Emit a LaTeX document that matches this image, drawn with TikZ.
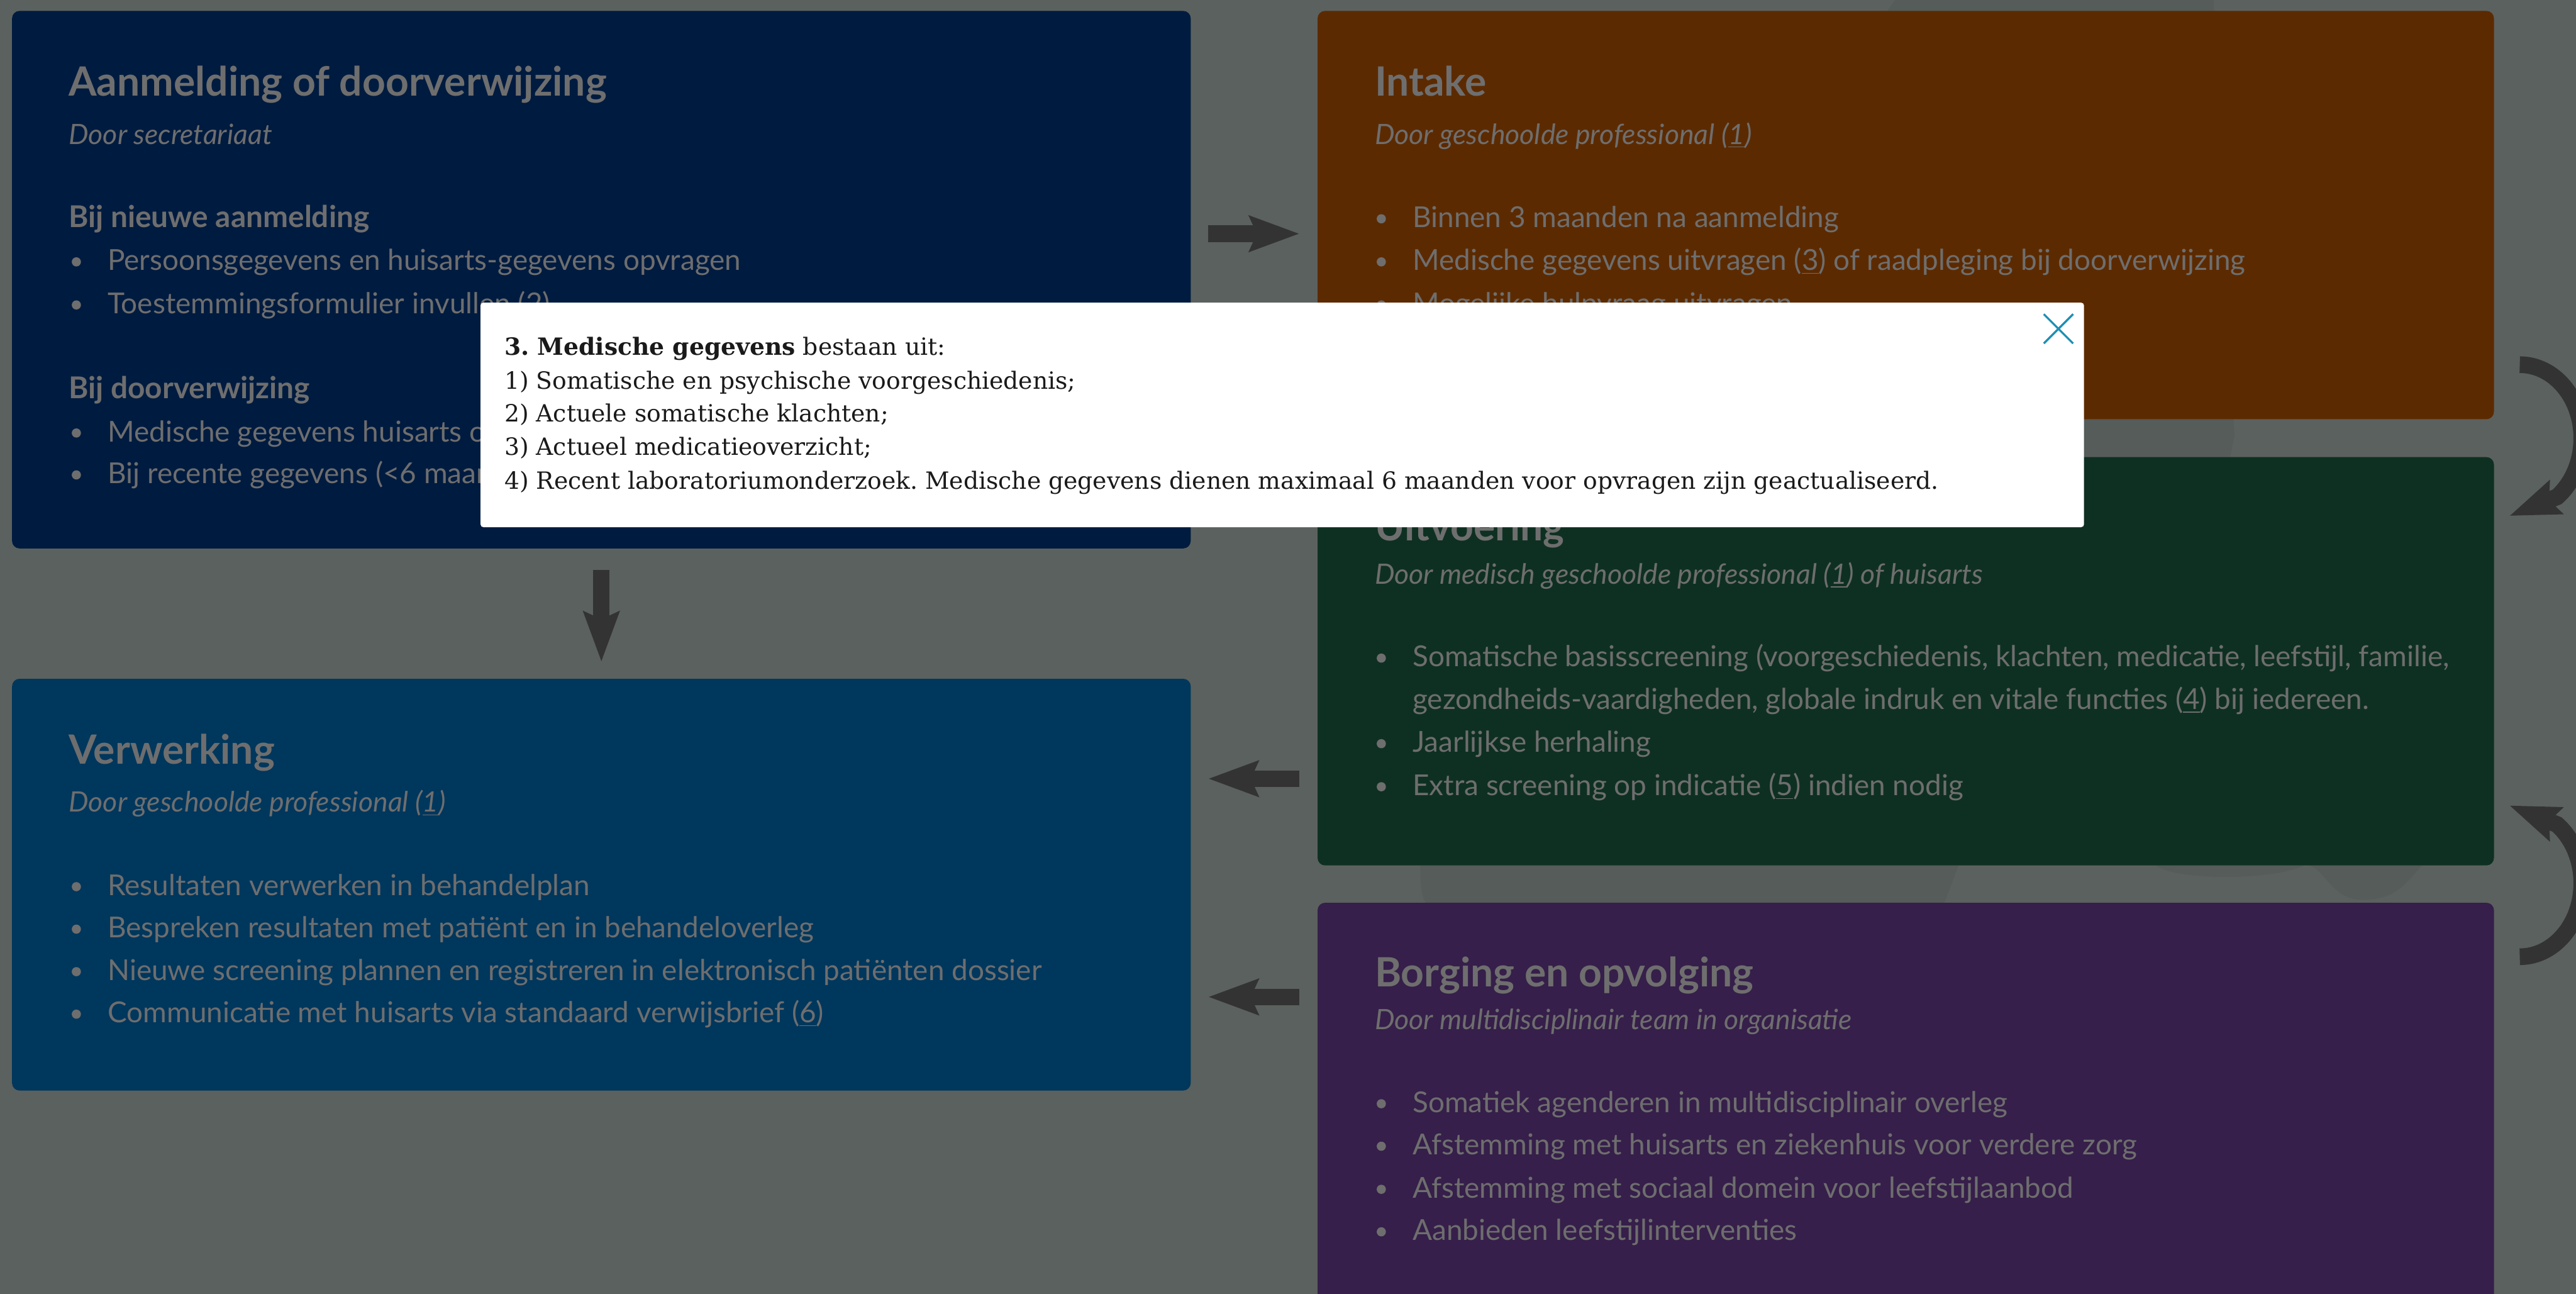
\documentclass[tikz,border=0pt]{standalone}
\usepackage{fontspec}
\setmainfont{Lato}
\newfontfamily\popfont{DejaVu Serif}
\usetikzlibrary{arrows.meta}
\frenchspacing

\definecolor{bggray}{HTML}{5B615E}
\definecolor{figgray}{HTML}{555C59}
\definecolor{navy}{HTML}{001B40}
\definecolor{brown}{HTML}{5C2A00}
\definecolor{darkgreen}{HTML}{0E3022}
\definecolor{purple}{HTML}{361F4A}
\definecolor{steel}{HTML}{00375D}
\definecolor{txtgray}{HTML}{6E6E6E}
\definecolor{arrowgray}{HTML}{333333}
\definecolor{closeblue}{HTML}{1F8FB3}
\definecolor{poptext}{HTML}{1A1A1A}

\begin{document}
\begin{tikzpicture}[
      box/.style={rounded corners=1.3mm, inner sep=0pt, draw=none},
      ttl/.style={anchor=base west, inner sep=0pt, text=txtgray, font=\fontsize{20}{24}\selectfont\bfseries},
      sub/.style={anchor=base west, inner sep=0pt, text=txtgray, font=\fontsize{13.9}{16}\selectfont\itshape},
      hd/.style={anchor=base west, inner sep=0pt, text=txtgray, font=\fontsize{14.9}{17}\selectfont\bfseries},
      itm/.style={anchor=base west, inner sep=0pt, text=txtgray, font=\fontsize{14.3}{17}\selectfont},
      fatarrow/.style={line width=2.9mm, draw=arrowgray, -{Stealth[length=8.8mm, width=6.5mm, inset=1.5mm, line width=0pt]}},
      pop/.style={anchor=base west, inner sep=0pt, text=poptext, font=\popfont\fontsize{11.75}{14}\selectfont\frenchspacing}]
    \useasboundingbox (0,0) rectangle (44.87,-22.53);
    \clip (0,0) rectangle (44.87,-22.53);
    \fill[bggray] (0,0) rectangle (44.87,-22.53);
    % faint figure behind the boxes
    \fill[figgray] (33.08,0.1) -- (38.55,0.1) -- (38.92,-7.6) -- (38.2,-11) -- (34.14,-15.0) -- (33.80,-15.9)
      -- (25.3,-15.9) .. controls (24.74,-15.9) and (24.74,-15.6) .. (24.74,-15.0) -- (26,-10) -- cycle;
    \fill[figgray] (37.51,-15.0) .. controls (37.6,-15.35) and (39.7,-15.35) .. (40.16,-15.05)
      .. controls (40.5,-15.1) and (40.6,-15.67) .. (41.15,-15.67)
      .. controls (41.8,-15.67) and (41.95,-15.3) .. (42.25,-15.0) -- cycle;

    % the five blocks
    \node[box, fill=navy, minimum width=20.53cm, minimum height=9.36cm] (aanm) at (10.475,-4.87) {};
    \node[box, fill=brown, minimum width=20.49cm, minimum height=7.11cm] (intake) at (33.195,-3.745) {};
    \node[box, fill=darkgreen, minimum width=20.49cm, minimum height=7.11cm] (uitv) at (33.195,-11.515) {};
    \node[box, fill=steel, minimum width=20.53cm, minimum height=7.17cm] (verw) at (10.475,-15.405) {};
    \node[box, fill=purple, minimum width=20.49cm, minimum height=7.78cm] (borg) at (33.195,-19.61) {};

    % Aanmelding
    \node[ttl] (aanmT) at (1.19,-1.67) {Aanmelding of doorverwijzing};
    \node[sub] (aanmS) at (1.19,-2.51) {Door secretariaat};
    \node[hd] (aanmH1) at (1.19,-3.96) {Bij nieuwe aanmelding};
    \node[itm] (aanm1) at (1.87,-4.71) {Persoonsgegevens en huisarts-gegevens opvragen};
    \node[itm] (aanm2) at (1.87,-5.46) {Toestemmingsformulier invullen (\underline{2})};
    \node[hd] (aanmH2) at (1.19,-6.94) {Bij doorverwijzing};
    \node[itm] (aanm3) at (1.87,-7.69) {Medische gegevens huisarts o};
    \node[itm] (aanm4) at (1.87,-8.42) {Bij recente gegevens (<6 maan};
    \foreach \y in {4.71,5.46,7.69,8.42}
      \fill[txtgray] (1.33,{0.15-\y}) circle (0.08);

    % Intake
    \node[ttl] (intakeT) at (23.94,-1.67) {Intake};
    \node[sub] (intakeS) at (23.94,-2.51) {Door geschoolde professional (\underline{1})};
    \node[itm] (intake1) at (24.60,-3.96) {Binnen 3 maanden na aanmelding};
    \node[itm] (intake2) at (24.60,-4.71) {Medische gegevens uitvragen (\underline{3}) of raadpleging bij doorverwijzing};
    \node[itm] (intake3) at (24.60,-5.46) {Mogelijke hulpvraag uitvragen};
    \foreach \y in {3.96,4.71,5.46}
      \fill[txtgray] (24.06,{0.15-\y}) circle (0.08);

    % Uitvoering
    \node[ttl] (uitvT) at (23.94,-9.42) {Uitvoering};
    \node[sub] (uitvS) at (23.94,-10.17) {Door medisch geschoolde professional (\underline{1}) of huisarts};
    \node[itm] (uitv1) at (24.60,-11.61) {Somatische basisscreening (voorgeschiedenis, klachten, medicatie, leefstijl, familie,};
    \node[itm] (uitv1b) at (24.60,-12.35) {gezondheids-vaardigheden, globale indruk en vitale functies (\underline{4}) bij iedereen.};
    \node[itm] (uitv2) at (24.60,-13.10) {Jaarlijkse herhaling};
    \node[itm] (uitv3) at (24.60,-13.85) {Extra screening op indicatie (\underline{5}) indien nodig};
    \foreach \y in {11.61,13.10,13.85}
      \fill[txtgray] (24.06,{0.15-\y}) circle (0.08);

    % Verwerking
    \node[ttl] (verwT) at (1.19,-13.30) {Verwerking};
    \node[sub] (verwS) at (1.19,-14.14) {Door geschoolde professional (\underline{1})};
    \node[itm] (verw1) at (1.87,-15.59) {Resultaten verwerken in behandelplan};
    \node[itm] (verw2) at (1.87,-16.33) {Bespreken resultaten met patiënt en in behandeloverleg};
    \node[itm] (verw3) at (1.87,-17.07) {Nieuwe screening plannen en registreren in elektronisch patiënten dossier};
    \node[itm] (verw4) at (1.87,-17.81) {Communicatie met huisarts via standaard verwijsbrief (\underline{6})};
    \foreach \y in {15.59,16.33,17.07,17.81}
      \fill[txtgray] (1.33,{0.15-\y}) circle (0.08);

    % Borging
    \node[ttl] (borgT) at (23.94,-17.18) {Borging en opvolging};
    \node[sub] (borgS) at (23.94,-17.93) {Door multidisciplinair team in organisatie};
    \node[itm] (borg1) at (24.60,-19.37) {Somatiek agenderen in multidisciplinair overleg};
    \node[itm] (borg2) at (24.60,-20.11) {Afstemming met huisarts en ziekenhuis voor verdere zorg};
    \node[itm] (borg3) at (24.60,-20.86) {Afstemming met sociaal domein voor leefstijlaanbod};
    \node[itm] (borg4) at (24.60,-21.60) {Aanbieden leefstijlinterventies};
    \foreach \y in {19.37,20.11,20.86,21.60}
      \fill[txtgray] (24.06,{0.15-\y}) circle (0.08);

    % arrows between the blocks
    \draw[fatarrow, shorten <=3mm, shorten >=3.2mm] (aanm.east |- 0,-4.07) -- (intake.west |- 0,-4.07);
    \draw[fatarrow, shorten <=3.7mm, shorten >=3mm] (aanm.south) -- (verw.north);
    \draw[fatarrow, shorten <=3.1mm, shorten >=3.1mm] (uitv.west |- 0,-13.56) -- (verw.east |- 0,-13.56);
    \draw[fatarrow, shorten <=3.1mm, shorten >=3.1mm] (borg.west |- 0,-17.36) -- (verw.east |- 0,-17.36);
    \coordinate (loopA) at (43.89,-6.35); % intake -> uitvoering
    \coordinate (loopAtip) at (43.72,-8.98);
    \draw[fatarrow] (loopA) arc[start angle=90, end angle=-53, x radius=1.08, y radius=1.28] -- (loopAtip);
    \coordinate (loopB) at (43.89,-16.66); % borging -> uitvoering
    \coordinate (loopBtip) at (43.72,-14.03);
    \draw[fatarrow] (loopB) arc[start angle=-90, end angle=53, x radius=1.08, y radius=1.28] -- (loopBtip);

    % popup
    \node[rounded corners=0.5mm, fill=white, inner sep=0pt, minimum width=27.93cm, minimum height=3.91cm] (popup) at (22.335,-7.225) {};
    \node[pop] (pop1) at (8.78,-6.18) {\textbf{3. Medische gegevens} bestaan uit:};
    \node[pop] (pop2) at (8.78,-6.77) {1) Somatische en psychische voorgeschiedenis;};
    \node[pop] (pop3) at (8.78,-7.35) {2) Actuele somatische klachten;};
    \node[pop] (pop4) at (8.78,-7.93) {3) Actueel medicatieoverzicht;};
    \node[pop] (pop5) at (8.78,-8.52) {4) Recent laboratoriumonderzoek. Medische gegevens dienen maximaal 6 maanden voor opvragen zijn geactualiseerd.};
    \draw[closeblue, line width=0.35mm] (35.60,-5.47) -- (36.11,-5.98) (36.11,-5.47) -- (35.60,-5.98);
\end{tikzpicture}
\end{document}
